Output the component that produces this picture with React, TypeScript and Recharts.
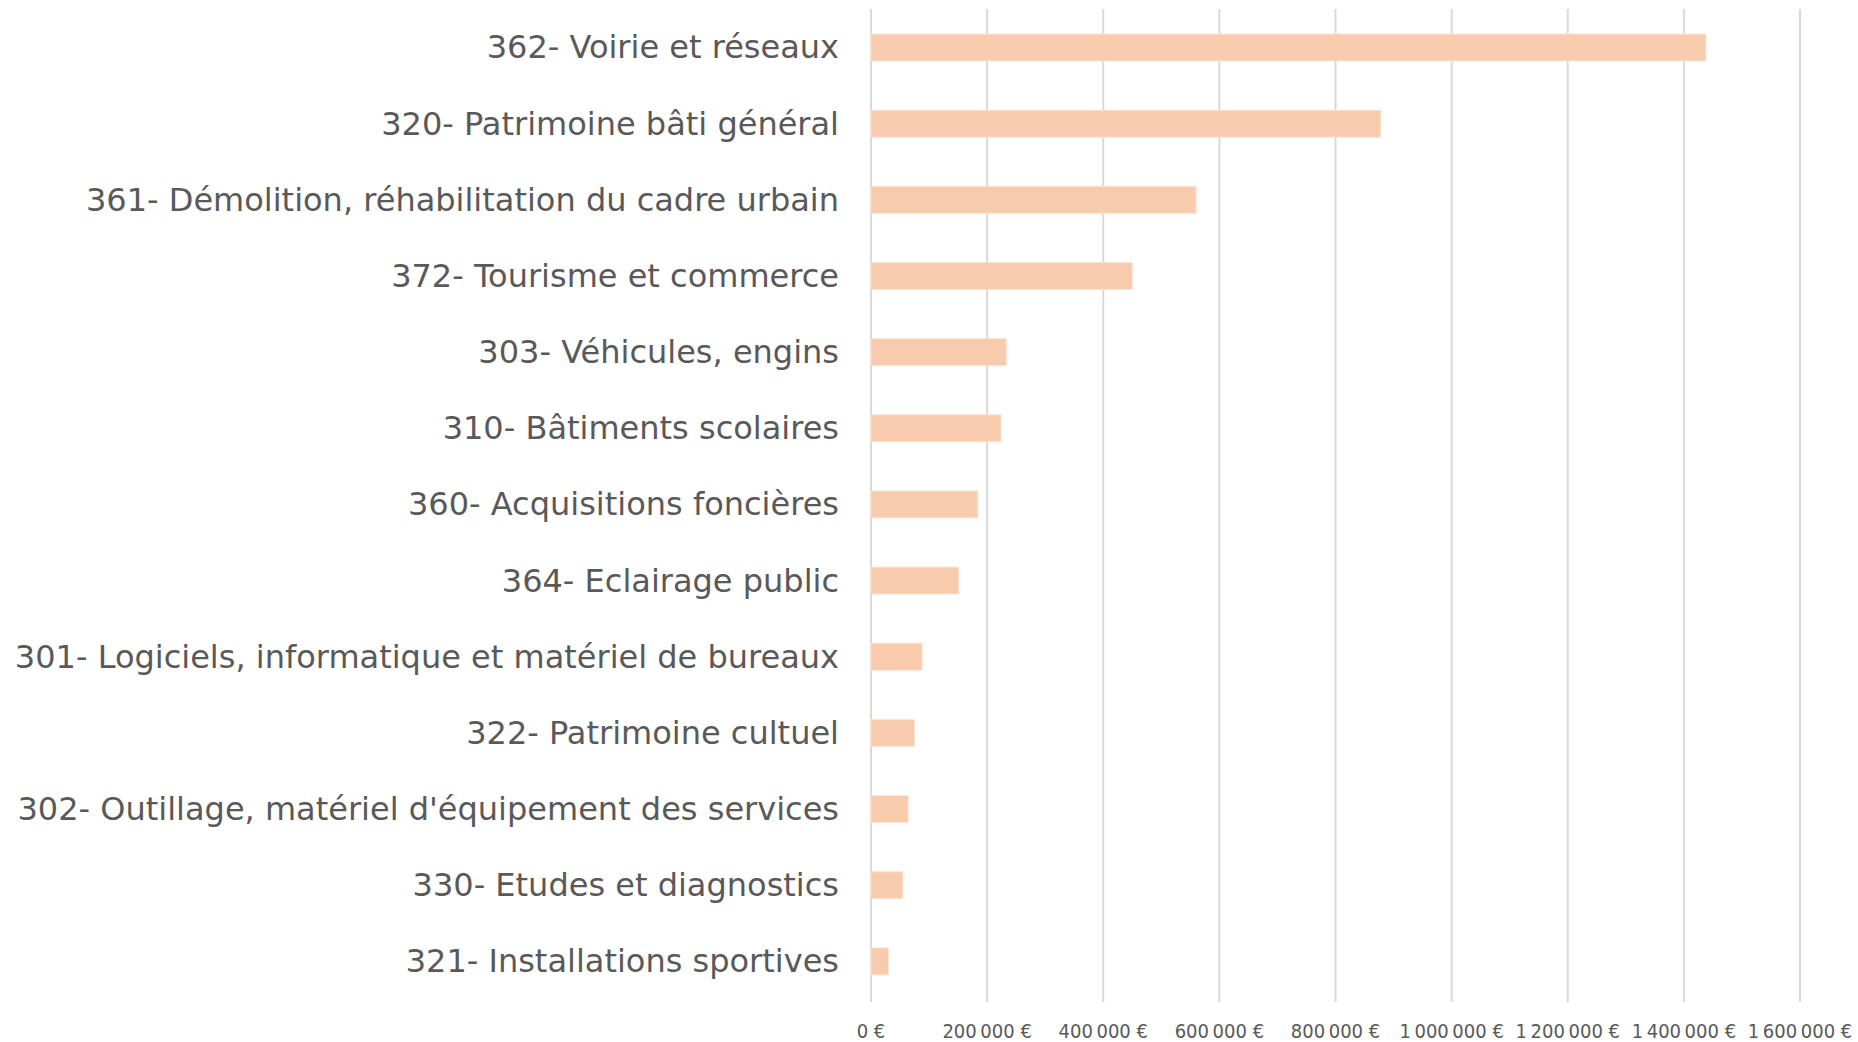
import { BarChart, Bar, XAxis, YAxis, CartesianGrid } from "recharts";

// Catégories (de haut en bas) et montants
const categories = [
  "362- Voirie et réseaux",
  "320- Patrimoine bâti général",
  "361- Démolition, réhabilitation du cadre urbain",
  "372- Tourisme et commerce",
  "303- Véhicules, engins",
  "310- Bâtiments scolaires",
  "360- Acquisitions foncières",
  "364- Eclairage public",
  "301- Logiciels, informatique et matériel de bureaux",
  "322- Patrimoine cultuel",
  "302- Outillage, matériel d'équipement des services",
  "330- Etudes et diagnostics",
  "321- Installations sportives",
];

const montants = [
  1438000, 878000, 560000, 450000, 233000, 224000, 184000, 151000, 88000,
  75000, 64000, 55000, 30000,
];

const xTicks = [0, 200000, 400000, 600000, 800000, 1000000, 1200000, 1400000, 1600000];

const data = categories.map((c, i) => ({ name: c, value: montants[i] }));

const formatEuro = (v: number) =>
  v === 0 ? "0 €" : `${String(v).replace(/\B(?=(\d{3})+(?!\d))/g, "\u2009")} €`;

export default function App() {
  return (
    <div style={{ position: "absolute", left: 0, top: 0, background: "#fff" }}>
      <BarChart
        width={1858}
        height={1042}
        data={data}
        layout="vertical"
        margin={{ top: 9, right: 58, left: 0, bottom: 0 }}
      >
        <CartesianGrid
          horizontal={false}
          stroke="#d9d9d9"
          strokeWidth={2}
        />
        <XAxis
          type="number"
          domain={[0, 1600000]}
          ticks={xTicks}
          tickFormatter={formatEuro}
          height={43}
          axisLine={false}
          tickLine={{ stroke: "#d9d9d9", strokeWidth: 2 }}
          tickSize={3}
          tickMargin={22}
          tick={{
            fontSize: 20,
            fill: "#595959",
            fontFamily: "'Liberation Sans Narrow', 'DejaVu Sans Condensed', sans-serif",
          }}
          interval={0}
        />
        <YAxis
          type="category"
          dataKey="name"
          width={871}
          axisLine={false}
          tickLine={false}
          tickSize={0}
          tickMargin={32}
          interval={0}
          tick={{
            fontSize: 32,
            fill: "#595959",
            fontFamily: "'DejaVu Sans', sans-serif",
          }}
        />
        <Bar
          dataKey="value"
          fill="#f8cbad"
          stroke="#fbe5d6"
          strokeWidth={1}
          barSize={27}
          isAnimationActive={false}
        />
      </BarChart>
    </div>
  );
}
